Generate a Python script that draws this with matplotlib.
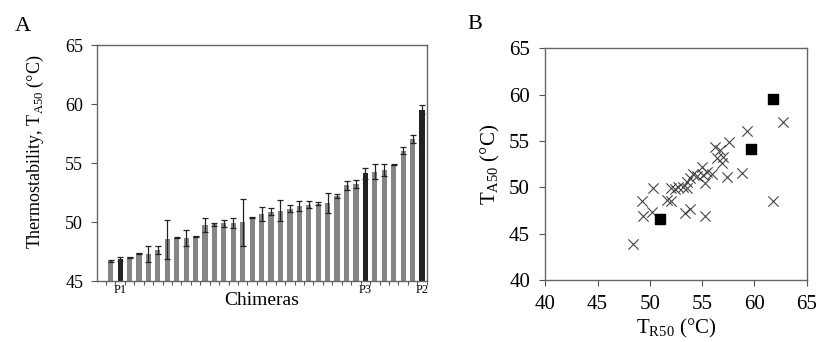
import matplotlib
matplotlib.use("Agg")
import matplotlib.pyplot as plt
import numpy as np

plt.rcParams['font.family'] = ['Liberation Serif', 'DejaVu Serif']
plt.rcParams['mathtext.fontset'] = 'custom'
plt.rcParams['mathtext.rm'] = 'Liberation Serif'

# Panel A data: thermostability of chimeras (sorted)
ta50 = [46.72, 46.90, 47.03, 47.37, 47.30, 47.65, 48.56, 48.70, 48.67, 48.80,
        49.77, 49.83, 49.90, 49.94, 50.00, 50.40, 50.70, 50.90, 51.00, 51.14,
        51.40, 51.47, 51.58, 51.60, 52.23, 53.14, 53.27, 54.15, 54.30, 54.43,
        54.88, 56.07, 57.06, 59.55]
ta50_err = [0.05, 0.15, 0.05, 0.05, 0.70, 0.30, 1.67, 0.05, 0.67, 0.05,
            0.60, 0.15, 0.30, 0.45, 2.00, 0.05, 0.60, 0.27, 0.90, 0.30,
            0.40, 0.30, 0.10, 0.85, 0.20, 0.37, 0.35, 0.47, 0.60, 0.50,
            0.05, 0.28, 0.34, 0.38]
parent_idx = [1, 27, 33]
parent_labels = ['P1', 'P3', 'P2']

# Panel B data: T_R50 vs T_A50
chim_tr50 = [48.42, 49.21, 49.37, 50.26, 50.17, 51.67, 51.99, 51.99, 52.40, 52.72,
             53.20, 53.52, 53.52, 53.83, 54.15, 54.47, 54.95, 55.11, 55.27, 55.43,
             55.91, 56.23, 56.39, 56.70, 57.02, 57.60, 57.34, 58.78, 59.25, 62.76,
             61.74, 53.36, 53.83, 55.27, 56.86]
chim_ta50 = [43.84, 48.51, 46.90, 49.95, 47.36, 48.62, 48.51, 49.88, 49.77, 50.06,
             50.06, 50.60, 49.88, 50.96, 51.49, 51.20, 52.21, 51.31, 50.42, 51.67,
             51.49, 54.37, 53.11, 54.00, 53.29, 54.91, 51.13, 51.57, 56.09, 57.06,
             48.51, 47.26, 47.62, 46.90, 52.57]
par_tr50 = [50.97, 59.70, 61.77]
par_ta50 = [46.57, 54.12, 59.58]

fig = plt.figure(figsize=(8.16, 3.42), dpi=100)

# ---------------- Panel A ----------------
axA = fig.add_axes([0.1189, 0.1775, 0.404, 0.690])
n = len(ta50)
x = np.arange(n)
colors = ['#222222' if i in parent_idx else '#858585' for i in range(n)]
axA.bar(x, np.array(ta50) - 45, bottom=45, width=0.55, color=colors, zorder=2)
axA.errorbar(x, ta50, yerr=ta50_err, fmt='none', ecolor='#222222',
             elinewidth=0.9, capsize=2, capthick=0.9, zorder=3)
axA.set_ylim(45, 65)
axA.set_xlim(-1.45, n - 1 + 0.46)
axA.set_yticks([45, 50, 55, 60, 65])
axA.set_xticks(parent_idx)
axA.set_xticklabels(parent_labels, fontsize=9)
axA.set_xticks(np.arange(-1, n) + 0.5, minor=True)
axA.tick_params(axis='x', which='major', length=0, pad=2)
axA.tick_params(axis='x', which='minor', length=3, width=0.8, color='#555555')
axA.tick_params(axis='y', labelsize=13, length=4, width=0.8, color='#555555', pad=6)
for s in axA.spines.values():
    s.set_color('#666666')
    s.set_linewidth(1.0)
axA.set_xlabel('Chimeras', fontsize=14, labelpad=-3)
axA.set_ylabel(r'Thermostability, T$_{\mathrm{A50}}$ (°C)', fontsize=13)
axA.yaxis.set_label_coords(-0.155, 0.548)
fig.text(0.018, 0.91, 'A', fontsize=16)

# ---------------- Panel B ----------------
axB = fig.add_axes([0.6683, 0.1813, 0.3203, 0.6775])
axB.scatter(chim_tr50, chim_ta50, marker='x', s=55, color='#444444',
            linewidths=0.8, zorder=2)
axB.scatter(par_tr50, par_ta50, marker='s', s=60, color='black', zorder=3)
axB.set_xlim(40, 65)
axB.set_ylim(40, 65)
axB.set_xticks([40, 45, 50, 55, 60, 65])
axB.set_yticks([40, 45, 50, 55, 60, 65])
axB.tick_params(labelsize=15, length=4, width=0.8, color='#555555', pad=7)
for s in axB.spines.values():
    s.set_color('#666666')
    s.set_linewidth(1.0)
axB.set_xlabel(r'T$_{\mathrm{R50}}$ (°C)', fontsize=15, labelpad=2)
axB.set_ylabel(r'T$_{\mathrm{A50}}$ (°C)', fontsize=15, labelpad=5)
fig.text(0.573, 0.915, 'B', fontsize=16)

fig.savefig('out.png', dpi=100)
